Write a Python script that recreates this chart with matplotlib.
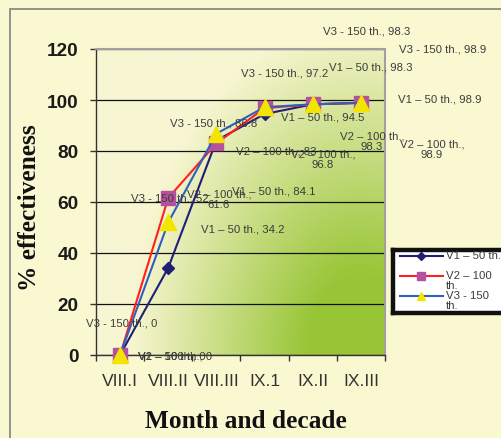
import numpy as np
import matplotlib
matplotlib.use("Agg")
import matplotlib.pyplot as plt
from matplotlib.patches import Rectangle
from matplotlib.colors import to_rgb

# ---- data ----
categories = ["VIII.I", "VIII.II", "VIII.III", "IX.1", "IX.II", "IX.III"]
series_names = ["V1 \u2013 50 th.", "V2 \u2013 100 th.", "V3 - 150 th."]
v1_values = [0, 34.2, 84.1, 94.5, 98.3, 98.9]
v2_values = [0, 61.6, 83, 96.8, 98.3, 98.9]
v3_values = [0, 52, 86.8, 97.2, 98.3, 98.9]
y_ticks = [0, 20, 40, 60, 80, 100, 120]

W, H = 502, 439
fig = plt.figure(figsize=(W / 100, H / 100), dpi=100)
bg = "#FAF8D0"
fig.patch.set_facecolor(bg)

def fx(px):
    return px / W

def fy(py):
    return 1 - py / H

# outer chart border
fig.patches.append(Rectangle((fx(10), -0.2), 1.2, fy(10) + 0.2, transform=fig.transFigure,
                             fill=False, edgecolor="#8A8A8A", lw=1.3, zorder=0))

ax = fig.add_axes([fx(96), fy(356), (385 - 96) / W, (356 - 50) / H])
x = np.arange(len(categories))
ax.set_xlim(-0.5, len(categories) - 0.5)
ax.set_ylim(0, 120)

# gradient background of plot area
nx, ny = 300, 300
gx, gy = np.meshgrid(np.linspace(0, 1, nx), np.linspace(0, 1, ny))
d = np.sqrt(((gx - 0.92) / 0.8) ** 2 + ((gy - 0.0) / 1.1) ** 2)
w = np.clip(1 - d, 0, 1)
w = np.clip(w * 1.3, 0, 1)
pale = np.array(to_rgb("#F8F6D2"))
green = np.array(to_rgb("#98C536"))
img = pale[None, None, :] * (1 - w[..., None]) + green[None, None, :] * w[..., None]
ax.imshow(img, extent=[-0.5, len(categories) - 0.5, 0, 120], origin="lower",
          aspect="auto", zorder=0, interpolation="bilinear")

ax.set_axisbelow(True)
ax.yaxis.grid(True, color="#111111", lw=0.9)
ax.set_yticks(y_ticks)
ax.set_xticks(x)
ax.set_xticklabels(categories)
ax.set_xticks(np.arange(-0.5, len(categories)), minor=True)
ax.tick_params(axis="x", which="major", length=0, pad=13)
ax.tick_params(axis="x", which="minor", length=4.5, width=1, color="#333333", direction="out")
ax.tick_params(axis="y", length=4.5, width=1, color="#333333", direction="out", pad=8)
for lab in ax.get_yticklabels():
    lab.set_fontfamily("Liberation Sans")
    lab.set_fontweight("bold")
    lab.set_fontsize(13.7)
    lab.set_color("#1A1A1A")
for lab in ax.get_xticklabels():
    lab.set_fontfamily("Liberation Sans")
    lab.set_fontsize(12.6)
    lab.set_color("#333333")

for s in ["top", "right"]:
    ax.spines[s].set_color("#A0A0A0")
    ax.spines[s].set_linewidth(1.5)
for s in ["left", "bottom"]:
    ax.spines[s].set_color("#333333")
    ax.spines[s].set_linewidth(1.0)

styles = [
    dict(color="#1F1F78", marker="D", ms=6, mfc="#1F1F78", mec="#1F1F78", lw=1.5),
    dict(color="#FF2020", marker="s", ms=9.5, mfc="#B5529F", mec="#B5529F", lw=1.5),
    dict(color="#2F5FBF", marker="^", ms=11, mfc="#F2E600", mec="#F2E600", lw=1.5),
]
all_values = [v1_values, v2_values, v3_values]
for vals, st in zip(all_values, styles):
    ax.plot(x, vals, zorder=3, clip_on=False, **st)

# data labels (positions in pixels)
lab_pos = [
    [(138, 357, "left", False), (243, 230, "center", False), (274, 192, "center", False),
     (323, 118, "center", False), (371, 68, "center", False), (440, 99, "center", False)],
    [(138, 357, "left", False), (219, 200, "center", True), (276, 152, "center", False),
     (323, 160, "center", True), (372, 142, "center", True), (432, 150, "center", True)],
    [(122, 323, "center", False), (170, 199, "center", False), (214, 123, "center", False),
     (285, 74, "center", False), (367, 32, "center", False), (443, 50, "center", False)],
]
for name, vals, poss in zip(series_names, all_values, lab_pos):
    for v, (px, py, ha, wrap) in zip(vals, poss):
        sep = ",\n" if wrap else ", "
        fig.text(fx(px), fy(py), f"{name}{sep}{v:g}", ha=ha, va="center", ma="center",
                 fontsize=8.2, family="Liberation Sans", color="#3C3C3C", linespacing=1.1,
                 zorder=5)

# axis titles
fig.text(fx(30), fy(208), "% effectiveness", rotation=90, ha="center", va="center",
         family="Liberation Serif", fontweight="bold", fontsize=18.3, color="#111111")
fig.text(fx(246), fy(422), "Month and decade", ha="center", va="center",
         family="Liberation Serif", fontweight="bold", fontsize=18.3, color="#111111")

# legend box (extends past the right edge, as in the reference)
lax = fig.add_axes([fx(393), fy(314), (560 - 393) / W, (314 - 251) / H])
lax.set_facecolor("white")
lax.set_xlim(393, 560)
lax.set_ylim(314, 251)
lax.set_xticks([])
lax.set_yticks([])
for s in lax.spines.values():
    s.set_linewidth(3.2)
    s.set_color("#111111")
leg_y = [257, 277, 297]
leg_ms = [4.5, 6, 6]
leg_labels = ["V1 \u2013 50 th.", "V2 \u2013 100\nth.", "V3 - 150\nth."]
for yy, st, ms, lbl in zip(leg_y, styles, leg_ms, leg_labels):
    lax.plot([400, 443], [yy, yy], color=st["color"], lw=st["lw"])
    lax.plot([421.5], [yy], linestyle="none", marker=st["marker"], ms=ms,
             mfc=st["mfc"], mec=st["mec"])
    lax.text(446, yy - 6, lbl, ha="left", va="top", fontsize=8.2, family="Liberation Sans",
             color="#3C3C3C", linespacing=1.05, clip_on=True)

fig.savefig("out.png", dpi=100, facecolor=bg)
